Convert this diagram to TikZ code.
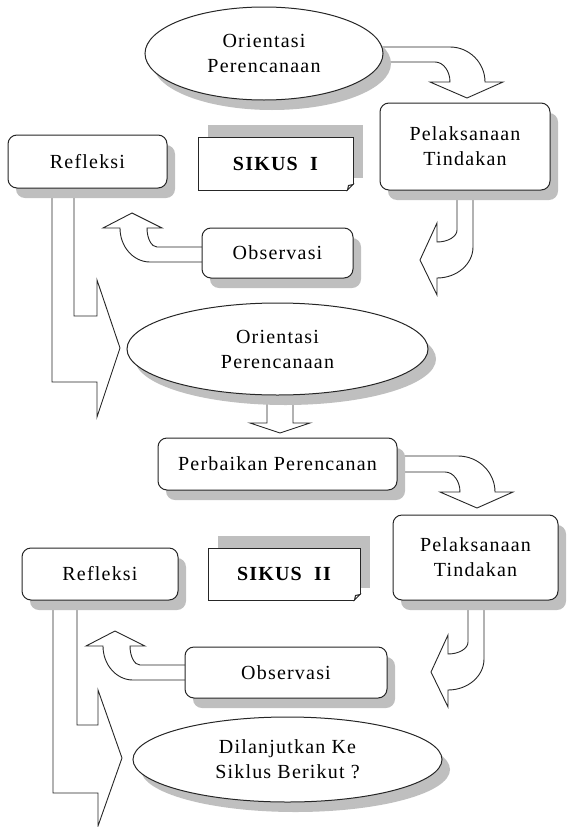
\documentclass[tikz,border=0pt]{standalone}
\usepackage{fontspec}
\setmainfont{Liberation Serif}[LetterSpace=6]
\usetikzlibrary{shapes.geometric,shadows,calc}
\newcommand\txtfont{\fontsize{20}{25}\selectfont}
\begin{document}
\begin{tikzpicture}[x=1pt,y=-1pt,
  box/.style={draw=black!85, line width=1pt, fill=white, rounded corners=9pt, inner sep=0pt, align=center, font=\txtfont},
  oval/.style={ellipse, draw=black!85, line width=1pt, fill=white, inner sep=0pt, align=center, font=\txtfont},
  sikusbox/.style={draw=black!85, line width=1pt, fill=white, inner sep=0pt, align=center, font=\txtfont\bfseries,
     drop shadow={shadow xshift=10pt, shadow yshift=12pt, fill=black!25, opacity=1}},
  shad/.style={drop shadow={shadow xshift=8pt, shadow yshift=-10pt, fill=black!25, opacity=1}},
  barrow/.style={draw=black!85, line width=0.9pt, fill=white, line join=miter}]
\useasboundingbox (0,0) rectangle (568,827);

% ---------- block arrows (drawn first, nodes cover their ends) ----------
% Orientasi 1 -> Pelaksanaan 1
\draw[barrow] (375,47) -- (450,47) .. controls (469.3,47) and (485,62.7) .. (485,82)
  -- (503,82) -- (467,98) -- (430,82) -- (450,82)
  .. controls (450,71) and (443.3,62) .. (435,62) -- (375,62) -- cycle;
% Pelaksanaan 1 -> down/left
\draw[barrow] (457,185) -- (457,230) .. controls (457,236.6) and (448,242) .. (437,242)
  -- (437,223) -- (420,260) -- (437,295) -- (437,278)
  .. controls (456.9,278) and (473,264.1) .. (473,247) -- (473,185) -- cycle;
% Observasi 1 -> up
\draw[barrow] (205,247) -- (157,247) .. controls (151.5,247) and (147,238.5) .. (147,228)
  -- (162,228) -- (132,213) -- (103,228) -- (120,228)
  .. controls (120,246.8) and (133.4,262) .. (150,262) -- (205,262) -- cycle;
% Refleksi 1 -> Orientasi 2
\draw[barrow] (52,185) -- (52,382) -- (97,382) -- (97,417) -- (120,348) -- (97,280)
  -- (97,316) -- (74,316) -- (74,185) -- cycle;
% Orientasi 2 -> Perbaikan
\draw[barrow] (267,390) -- (267,423) -- (250,423) -- (280,433) -- (310,423)
  -- (293,423) -- (293,390) -- cycle;
% Perbaikan -> Pelaksanaan 2
\draw[barrow] (394,456) -- (458,456) .. controls (478.4,456) and (495,472.1) .. (495,492)
  -- (513,492) -- (477,508) -- (440,492) -- (460,492)
  .. controls (460,481) and (453.3,472) .. (445,472) -- (394,472) -- cycle;
% Pelaksanaan 2 -> down/left
\draw[barrow] (468,597) -- (468,642) .. controls (468,648.6) and (459,654) .. (448,654)
  -- (448,635) -- (431,672) -- (448,707) -- (448,690)
  .. controls (467.9,690) and (484,676.1) .. (484,659) -- (484,597) -- cycle;
% Observasi 2 -> up
\draw[barrow] (188,665) -- (140,665) .. controls (134.5,665) and (130,656.5) .. (130,646)
  -- (145,646) -- (115,631) -- (86,646) -- (103,646)
  .. controls (103,664.8) and (116.4,680) .. (133,680) -- (188,680) -- cycle;
% Refleksi 2 -> Dilanjutkan
\draw[barrow] (53,597) -- (53,793) -- (98,793) -- (98,826) -- (122,758) -- (98,690)
  -- (98,725) -- (77,725) -- (77,597) -- cycle;

% ---------- nodes ----------
\node[oval, shad, minimum width=238pt, minimum height=93pt] (ell1) at (264,53.5) {Orientasi\\Perencanaan};
\node[box, shad, minimum width=170pt, minimum height=87pt] (pel1) at (465,146.5) {Pelaksanaan\\Tindakan};
\node[box, shad, minimum width=159pt, minimum height=53pt] (refl1) at (87.5,161.5) {Refleksi};
\node[sikusbox, minimum width=155pt, minimum height=53pt] (sik1) at (275.5,163.5) {SIKUS\ \ I};
\node[box, shad, minimum width=151pt, minimum height=50pt] (obs1) at (277.5,253) {Observasi};
\node[oval, shad, minimum width=301pt, minimum height=92pt] (ell2) at (277.5,349) {Orientasi\\Perencanaan};
\node[box, shad, minimum width=239pt, minimum height=52pt] (perb) at (277.5,464) {Perbaikan Perencanan};
\node[box, shad, minimum width=165pt, minimum height=85pt] (pel2) at (475.5,557.5) {Pelaksanaan\\Tindakan};
\node[sikusbox, minimum width=152pt, minimum height=52pt] (sik2) at (284,574) {SIKUS\ \ II};
\node[box, shad, minimum width=156pt, minimum height=52pt] (refl2) at (100,574) {Refleksi};
\node[box, shad, minimum width=202pt, minimum height=51pt] (obs2) at (286,672.5) {Observasi};
\node[oval, shad, minimum width=309pt, minimum height=85pt] (ell3) at (287.5,759.5) {Dilanjutkan Ke\\Siklus Berikut ?};

% folded corners of the SIKUS labels
\foreach \n in {sik1,sik2}{
  \fill[white] ($(\n.south east)+(1,-7)$) -- ($(\n.south east)+(1,1)$) -- ($(\n.south east)+(-7,1)$) -- cycle;
  \draw[black!85, line width=1pt, line join=miter]
    ($(\n.south east)+(-0.5,-6)$) -- ($(\n.south east)+(-6,-0.5)$)
    -- ($(\n.south east)+(-5,-5)$) -- cycle;
}
\end{tikzpicture}
\end{document}
